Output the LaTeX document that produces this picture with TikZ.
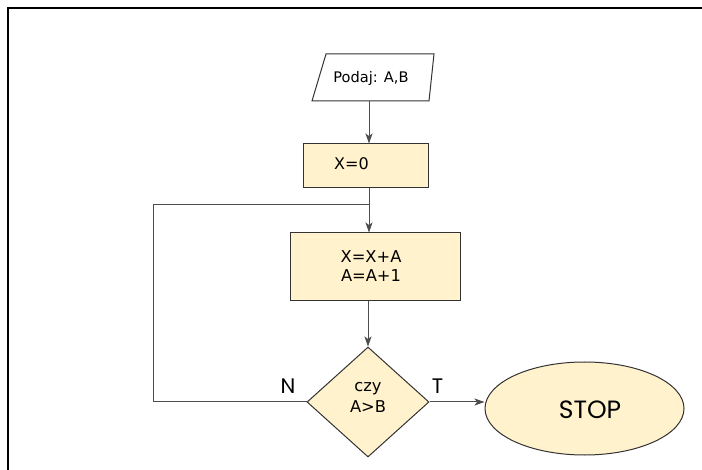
\documentclass[tikz,border=0pt]{standalone}
\usepackage{fontspec}
\setmainfont{DejaVu Sans}
\newfontfamily\geofont{Poppins}
\usetikzlibrary{shapes.geometric,arrows.meta}
\definecolor{boxfill}{HTML}{FFF2CC}
\definecolor{boxline}{HTML}{333333}
\definecolor{connline}{HTML}{4D4D4D}
\tikzset{
  procbox/.style={draw=boxline, fill=boxfill, line width=1pt, rectangle, inner sep=0pt},
  decbox/.style={draw=boxline, fill=boxfill, line width=1pt, diamond, inner sep=0pt},
  endbox/.style={draw=boxline, fill=boxfill, line width=1pt, ellipse, inner sep=0pt},
  txt/.style={inner sep=0pt, align=center},
  conn/.style={draw=connline, line width=1pt, -{Stealth[length=10pt,width=7pt,inset=2.5pt]}},
  plainline/.style={draw=connline, line width=1pt},
}
\begin{document}
\begin{tikzpicture}[x=1pt,y=-1pt]
\useasboundingbox (0,0) rectangle (702,470);
% outer frame (top and left edges visible)
\draw[line width=1.5pt, black] (8,470) -- (8,8) -- (702,8);

% input parallelogram
\node[rectangle, minimum width=110pt, minimum height=47pt, inner sep=0pt] (in) at (371,77.5) {};
\draw[draw=boxline, fill=white, line width=1pt] (326,54) -- (434,54) -- (429,101) -- (312,101) -- cycle;
\node[txt, font=\fontsize{14.6}{17}\selectfont] (intext) at (371,78) {Podaj: A,B};

% X=0
\node[procbox, minimum width=125pt, minimum height=44pt] (x0) at (365.5,166) {};
\node[txt, font=\fontsize{16}{19}\selectfont] (x0text) at (351.5,164) {X=0};

% X=X+A / A=A+1
\node[procbox, minimum width=170pt, minimum height=68pt] (calc) at (375,267) {};
\node[txt, font=\fontsize{16.3}{19}\selectfont] (calctext) at (371,266) {X=X+A\\A=A+1};

% decision
\node[decbox, minimum width=122pt, minimum height=110pt] (dec) at (368,402) {};
\node[txt, font=\fontsize{16.3}{21}\selectfont] (dectext) at (368,397) {czy\\A>B};

% stop
\node[endbox, minimum width=199pt, minimum height=93pt] (stop) at (584.5,408.5) {};
\node[txt, font=\geofont\fontsize{25}{29}\selectfont] (stoptext) at (590,410) {STOP};

% labels
\node[txt, font=\geofont\fontsize{21}{25}\selectfont] (nlab) at (288,386) {N};
\node[txt, font=\geofont\fontsize{21}{25}\selectfont] (tlab) at (437.5,386) {T};

% connectors
\coordinate (axis) at (369,0);
\coordinate (j) at (369,205);
\coordinate (lc) at (153,205);
\draw[conn] (in.south -| axis) -- (x0.north -| axis);
\draw[plainline] (x0.south -| j) -- (j);
\draw[conn] (j) -- (calc.north -| j);
\draw[conn] (calc.south -| dec.north) -- (dec.north);
\draw[plainline] (dec.west) -- (dec.west -| lc) -- (lc) -- (j);
\draw[conn] (dec.east) -- (dec.east -| stop.west);
\end{tikzpicture}
\end{document}
